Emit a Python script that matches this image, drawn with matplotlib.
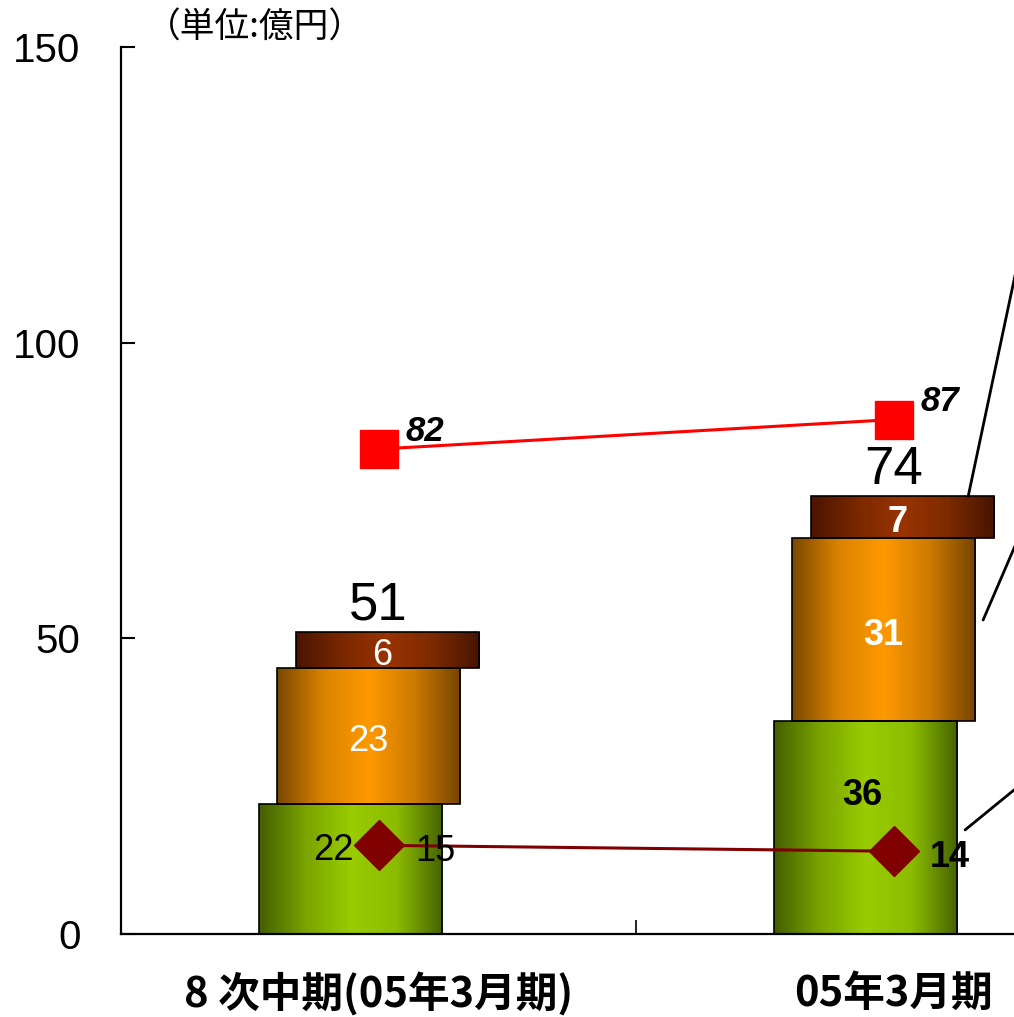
import numpy as np
import matplotlib
matplotlib.use("Agg")
import matplotlib.pyplot as plt
from matplotlib.colors import LinearSegmentedColormap

# ---- data ----
categories = ["8 次中期(05年3月期)", "05年3月期"]
seg_bottom = [22, 36]   # green segment
seg_middle = [23, 31]   # orange segment
seg_top = [6, 7]        # brown segment
totals = [51, 74]
line_upper = [82, 87]   # red squares
line_lower = [15, 14]   # dark red diamonds
yticks = [0, 50, 100, 150]
unit_label = "（単位:億円）"

# ---- figure ----
W, H = 1014, 1017
fig = plt.figure(figsize=(W / 100, H / 100), dpi=100)
ax = fig.add_axes([121 / W, 83 / H, 1030 / W, 887 / H])

x = np.arange(len(categories))
width = 0.357
offsets = [-0.0544, -0.0194, 0.0175]
segments = [seg_bottom, seg_middle, seg_top]
grad_colors = [
    ["#435e00", "#7aa300", "#99cc00", "#8cbc00", "#456200"],
    ["#7a4800", "#d98200", "#ff9900", "#cc7a00", "#764400"],
    ["#4a1400", "#7a2800", "#993300", "#7c2a00", "#461400"],
]

grad = np.linspace(0, 1, 256).reshape(1, -1)
bottoms = np.zeros(len(categories))
for seg, off, cols in zip(segments, offsets, grad_colors):
    cmap = LinearSegmentedColormap.from_list("g", cols)
    bars = ax.bar(x + off, seg, width, bottom=bottoms, facecolor="none",
                  edgecolor="black", linewidth=1.2, zorder=3)
    for b in bars:
        x0, y0, w, h = b.get_x(), b.get_y(), b.get_width(), b.get_height()
        im = ax.imshow(grad, cmap=cmap, extent=[x0, x0 + w, y0, y0 + h],
                       aspect="auto", zorder=2, interpolation="bilinear")
        im.set_clip_path(b)
    bottoms = bottoms + np.array(seg)

ax.set_xlim(-0.5, 1.5)
ax.set_ylim(0, 150)

num_font = ["Liberation Sans", "DejaVu Sans"]
cjk_font = ["Noto Sans CJK JP", "DejaVu Sans"]

# segment labels
green_dx = [-0.088, -0.061]
green_frac = [0.64, 0.65]
for i in range(len(categories)):
    wt = "normal" if i == 0 else "bold"
    ax.text(x[i] + green_dx[i], seg_bottom[i] * green_frac[i], str(seg_bottom[i]),
            ha="center", va="center", fontsize=26, color="black",
            family=num_font, weight=wt, zorder=6)
    ax.text(x[i] + offsets[1], seg_bottom[i] + seg_middle[i] / 2 - 1.0, str(seg_middle[i]),
            ha="center", va="center", fontsize=26, color="white",
            family=num_font, weight=wt, zorder=6)
    ax.text(x[i] + offsets[2] - 0.01, seg_bottom[i] + seg_middle[i] + seg_top[i] / 2 - 0.9,
            str(seg_top[i]), ha="center", va="center", fontsize=26, color="white",
            family=num_font, weight="bold" if i == 1 else "normal", zorder=6)
    ax.text(x[i] + 0.0, totals[i] + 4.5, " ".join(str(totals[i])) if False else str(totals[i]),
            ha="center", va="center", fontsize=38, color="black",
            family=num_font, weight="normal", zorder=6)

# lines
ax.plot(x, line_upper, color="red", lw=2.2, marker="s", ms=28, zorder=5)
ax.plot(x, line_lower, color="#800000", lw=2.2, marker="D", ms=25, zorder=5)
for i in range(len(categories)):
    ax.text(x[i] + 0.052, line_upper[i] + 3.0, str(line_upper[i]), ha="left",
            va="center", fontsize=25, style="italic", weight="bold",
            family=num_font, zorder=6)
    ax.text(x[i] + 0.071, line_lower[i] - 1.0, str(line_lower[i]), ha="left",
            va="center", fontsize=26, weight="normal" if i == 0 else "bold",
            family=num_font, zorder=6)

# leader lines (to labels outside of the visible area)
leaders = [
    ((x[1] + 0.145, totals[1]), (92, 434)),
    ((x[1] + 0.174, seg_bottom[1] + seg_middle[1] / 2 + 1.6), (62, 144)),
    ((x[1] + 0.139, seg_bottom[1] / 2 - 0.4), (98, 80)),
]
for (xy, d) in leaders:
    ax.annotate("", xy=xy, xytext=d, textcoords="offset pixels",
                arrowprops=dict(arrowstyle="-", lw=2, color="black",
                                shrinkA=0, shrinkB=0),
                annotation_clip=False, zorder=4)

# axes styling
for s in ["top", "right"]:
    ax.spines[s].set_visible(False)
for s in ["left", "bottom"]:
    ax.spines[s].set_linewidth(1.6)
ax.set_yticks(yticks)
ax.set_yticklabels([str(v) for v in yticks], family=num_font)
ax.tick_params(axis="y", direction="in", length=10, width=1.5, labelsize=29, pad=29)
ax.set_xticks([0.5, 1.5])
ax.set_xticklabels([])
ax.tick_params(axis="x", which="major", direction="in", length=10, width=1.2)
ax.set_xticks(x, minor=True)
ax.set_xticklabels(categories, minor=True, family=cjk_font, weight="bold", fontsize=30)
ax.tick_params(axis="x", which="minor", length=0, pad=28)

fig.text(255 / W, 1 - 28 / H, unit_label, ha="center", va="center",
         fontsize=25, family=cjk_font)

fig.savefig("out.png", dpi=100)
